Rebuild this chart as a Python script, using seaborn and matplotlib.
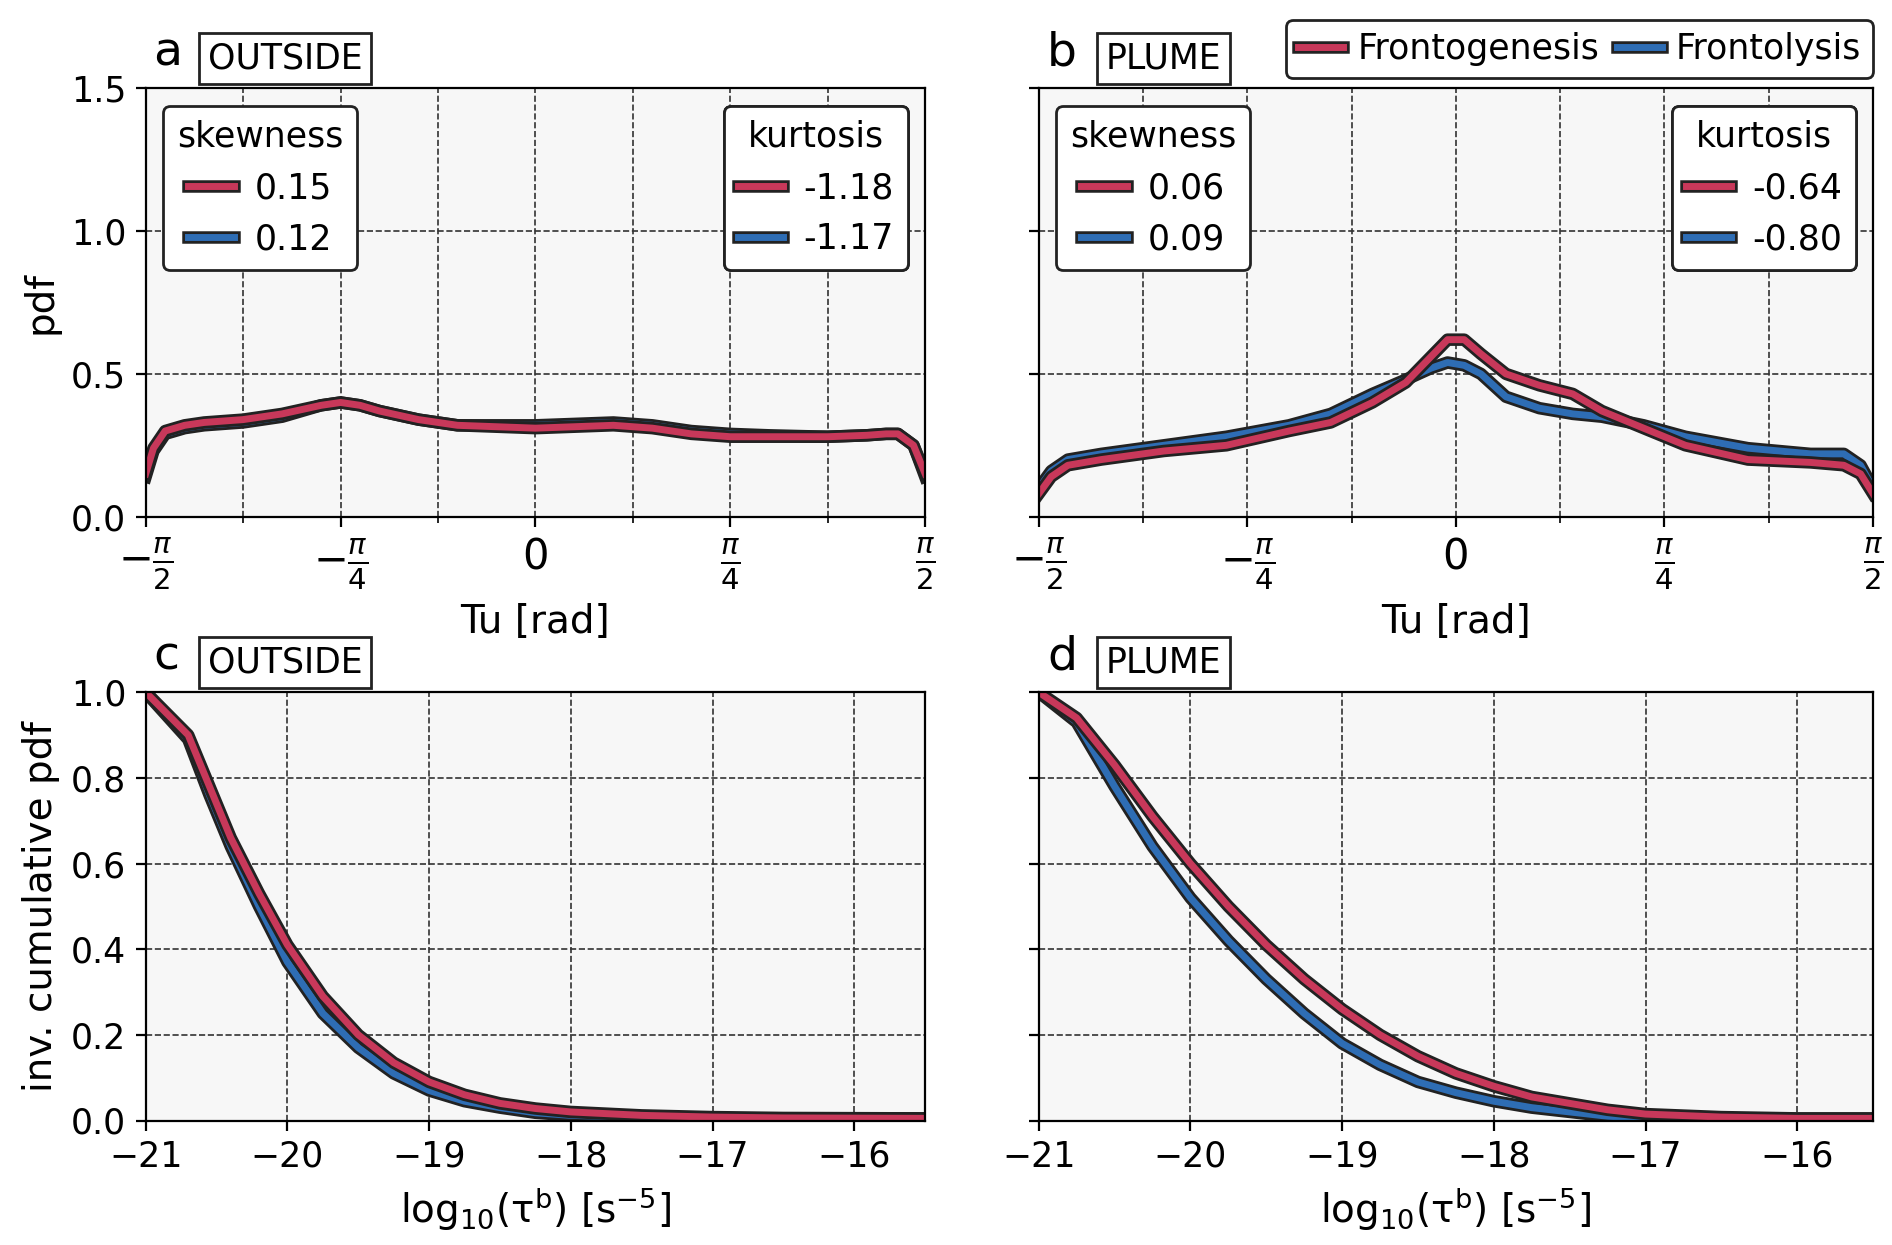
import numpy as np
import seaborn as sns
import matplotlib.pyplot as plt
import matplotlib.patheffects as pe
from matplotlib.lines import Line2D

RED = '#c8385a'
BLUE = '#2e6db4'

# Tu positions in units of pi/2
tu_a = [-1, -0.98, -0.95, -0.9, -0.85, -0.75, -0.65, -0.55, -0.5, -0.45, -0.4, -0.3, -0.2, -0.1, 0,
        0.1, 0.2, 0.3, 0.4, 0.5, 0.6, 0.75, 0.85, 0.9, 0.93, 0.97, 1]
a_gen = [0.15, 0.24, 0.30, 0.32, 0.33, 0.34, 0.36, 0.39, 0.40, 0.39, 0.37, 0.34, 0.32, 0.315, 0.31,
         0.315, 0.32, 0.31, 0.29, 0.28, 0.28, 0.28, 0.285, 0.29, 0.29, 0.25, 0.15]
a_lys = [0.14, 0.23, 0.29, 0.31, 0.32, 0.33, 0.35, 0.39, 0.40, 0.39, 0.37, 0.34, 0.32, 0.32, 0.32,
         0.325, 0.33, 0.32, 0.30, 0.29, 0.285, 0.28, 0.285, 0.29, 0.29, 0.25, 0.14]

tu_b = [-1, -0.97, -0.93, -0.85, -0.7, -0.55, -0.4, -0.3, -0.2, -0.12, -0.06, -0.02, 0.02, 0.06,
        0.12, 0.2, 0.28, 0.35, 0.45, 0.55, 0.7, 0.85, 0.93, 0.97, 1]
b_gen = [0.08, 0.14, 0.18, 0.20, 0.23, 0.25, 0.30, 0.33, 0.40, 0.47, 0.56, 0.62, 0.62, 0.57,
         0.50, 0.46, 0.43, 0.37, 0.31, 0.25, 0.20, 0.19, 0.18, 0.15, 0.08]
b_lys = [0.10, 0.16, 0.20, 0.22, 0.25, 0.28, 0.32, 0.36, 0.43, 0.48, 0.52, 0.54, 0.53, 0.50,
         0.42, 0.38, 0.36, 0.35, 0.32, 0.28, 0.24, 0.22, 0.22, 0.18, 0.10]

tau_c = [-21, -20.85, -20.7, -20.55, -20.4, -20.2, -20, -19.75, -19.5, -19.25, -19, -18.75, -18.5,
         -18.25, -18, -17.5, -17, -16.5, -15.5]
c_gen = [1.0, 0.95, 0.90, 0.78, 0.66, 0.53, 0.41, 0.29, 0.20, 0.135, 0.09, 0.06, 0.04,
         0.028, 0.02, 0.012, 0.008, 0.006, 0.005]
c_lys = [1.0, 0.945, 0.89, 0.76, 0.64, 0.50, 0.37, 0.25, 0.17, 0.11, 0.07, 0.045, 0.03,
         0.018, 0.012, 0.007, 0.005, 0.005, 0.005]

tau_d = [-21, -20.75, -20.5, -20.25, -20, -19.75, -19.5, -19.25, -19, -18.75, -18.5, -18.25, -18,
         -17.75, -17.5, -17.25, -17, -16.5, -16, -15.5]
d_gen = [1.0, 0.94, 0.83, 0.71, 0.60, 0.50, 0.41, 0.33, 0.26, 0.20, 0.15, 0.11, 0.08,
         0.055, 0.04, 0.025, 0.015, 0.008, 0.005, 0.005]
d_lys = [1.0, 0.93, 0.78, 0.64, 0.52, 0.42, 0.33, 0.25, 0.18, 0.13, 0.09, 0.065, 0.045,
         0.03, 0.02, 0.01, 0.005, 0.004, 0.004, 0.004]

skew = {'a': ['0.15', '0.12'], 'b': ['0.06', '0.09']}
kurt = {'a': ['-1.18', '-1.17'], 'b': ['-0.64', '-0.80']}

plt.rcParams.update({'font.size': 12.5, 'axes.facecolor': '#f7f7f7'})
fig = plt.figure(figsize=(9.46, 6.225), dpi=200)
L, R, L2, R2 = 0.077, 0.489, 0.549, 0.990
axa = fig.add_axes([L, 0.585, R - L, 0.344])
axb = fig.add_axes([L2, 0.585, R2 - L2, 0.344])
axc = fig.add_axes([L, 0.100, R - L, 0.344])
axd = fig.add_axes([L2, 0.100, R2 - L2, 0.344])

stroke = [pe.Stroke(linewidth=4.5, foreground='#222222'), pe.Normal()]


def draw(ax, x, y, color):
    sns.lineplot(x=x, y=y, ax=ax, color=color, lw=2.5, path_effects=stroke)


def handle(color):
    return Line2D([], [], color=color, lw=2.5, path_effects=stroke)


legkw = dict(edgecolor='#222222', facecolor='white', framealpha=1, fancybox=True,
             handlelength=1.3, handletextpad=0.6, fontsize=12.5, title_fontsize=12.5)

for ax, x, g, l, k in [(axa, tu_a, a_gen, a_lys, 'a'), (axb, tu_b, b_gen, b_lys, 'b')]:
    xr = np.array(x) * np.pi / 2
    draw(ax, xr, l, BLUE)
    draw(ax, xr, g, RED)
    ax.set_xlim(-np.pi / 2, np.pi / 2)
    ax.set_ylim(0, 1.5)
    ax.set_xticks(np.arange(-4, 5) * np.pi / 8, minor=True)
    ax.set_xticks([-np.pi / 2, -np.pi / 4, 0, np.pi / 4, np.pi / 2])
    ax.set_xticklabels([r'$-\frac{\pi}{2}$', r'$-\frac{\pi}{4}$', '0', r'$\frac{\pi}{4}$', r'$\frac{\pi}{2}$'], fontsize=15)
    ax.set_yticks([0, 0.5, 1.0, 1.5])
    ax.grid(True, which='both', axis='x', ls='--', lw=0.6, color='#333333')
    ax.grid(True, which='major', axis='y', ls='--', lw=0.6, color='#333333')
    ax.set_xlabel('Tu [rad]', fontsize=14)
    leg1 = ax.legend([handle(RED), handle(BLUE)], skew[k], title='skewness', loc='upper left', **legkw)
    leg2 = ax.legend([handle(RED), handle(BLUE)], kurt[k], title='kurtosis', loc='upper right', **legkw)
    ax.add_artist(leg1)
    ax.add_artist(leg2)

for ax, x, g, l in [(axc, tau_c, c_gen, c_lys), (axd, tau_d, d_gen, d_lys)]:
    draw(ax, x, l, BLUE)
    draw(ax, x, g, RED)
    ax.set_xlim(-21, -15.5)
    ax.set_ylim(0, 1.0)
    ax.set_xticks([-21, -20, -19, -18, -17, -16])
    ax.set_yticks(np.arange(0, 1.01, 0.2))
    ax.grid(True, ls='--', lw=0.6, color='#333333')
    ax.set_xlabel(r'log$_{10}$(τ$^{\mathrm{b}}$) [s$^{-5}$]', fontsize=14)

axa.set_ylabel('pdf', fontsize=14)
axc.set_ylabel('inv. cumulative pdf', fontsize=14)
axb.set_yticklabels([])
axd.set_yticklabels([])

for ax, lab, name in [(axa, 'a', 'OUTSIDE'), (axb, 'b', 'PLUME'), (axc, 'c', 'OUTSIDE'), (axd, 'd', 'PLUME')]:
    ax.text(0.01, 1.03, lab, transform=ax.transAxes, fontsize=17, va='bottom')
    ax.text(0.08, 1.03, name, transform=ax.transAxes, fontsize=12.5, va='bottom',
            bbox=dict(boxstyle='square,pad=0.25', fc='white', ec='#222222'))

fig.legend([handle(RED), handle(BLUE)], ['Frontogenesis', 'Frontolysis'], loc='lower right',
           bbox_to_anchor=(0.99, 0.937), ncol=2, edgecolor='#222222', facecolor='white',
           framealpha=1, handlelength=1.3, handletextpad=0.4, columnspacing=0.5,
           fontsize=12.5, borderpad=0.35, borderaxespad=0.0)

fig.savefig('out.png', dpi=200)
